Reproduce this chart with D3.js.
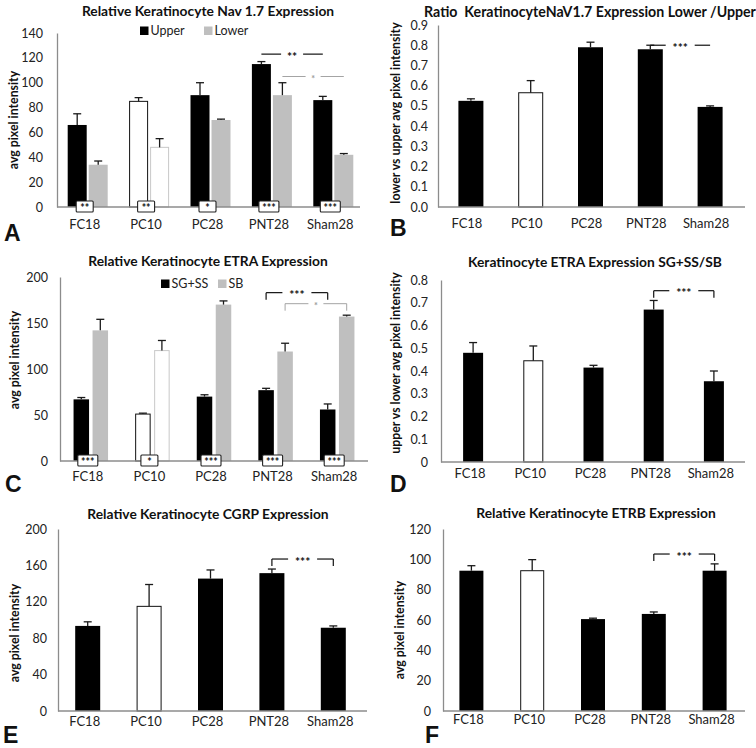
<!DOCTYPE html>
<html><head><meta charset="utf-8">
<script src="https://cdn.jsdelivr.net/npm/d3@7"></script>
<style>
body{margin:0;background:#fff;}
svg{display:block;font-family:Lato,"Open Sans",sans-serif;}
text{white-space:pre;}
</style></head>
<body>
<svg id="chart" width="756" height="748"></svg>
<script>
// ---------- DATA ----------
const categories = ["FC18","PC10","PC28","PNT28","Sham28"];
const hollowCategory = "PC10";

const navUpper    = [66, 85, 90, 115, 86];
const navUpperErr = [9, 3, 10, 2, 3];
const navLower    = [34, 48, 70, 90, 42];
const navLowerErr = [3, 7, 0.7, 10, 1];
const navStars    = ["**","**","*","***","***"];
const navTicks    = [0,20,40,60,80,100,120,140];

const navRatio    = [0.525, 0.565, 0.79, 0.78, 0.495];
const navRatioErr = [0.01, 0.06, 0.025, 0.02, 0.005];
const ratioTicks  = [0,0.1,0.2,0.3,0.4,0.5,0.6,0.7,0.8,0.9];

const etraSG      = [67, 51, 70, 77, 56];
const etraSGErr   = [2, 1, 2, 2, 6];
const etraSB      = [142, 120, 170, 119, 157];
const etraSBErr   = [12, 11, 4, 9, 1.5];
const etraStars   = ["***","*","***","***","***"];
const etraTicks   = [0,50,100,150,200];

const etraRatio    = [0.48, 0.445, 0.415, 0.67, 0.355];
const etraRatioErr = [0.045, 0.065, 0.01, 0.04, 0.045];
const etraRatioTicks = [0,0.1,0.2,0.3,0.4,0.5,0.6,0.7,0.8];

const cgrp      = [93.5, 115, 145.5, 151.5, 91.5];
const cgrpErr   = [4.5, 24, 9.5, 4.5, 2];
const cgrpTicks = [0,40,80,120,160,200];

const etrb      = [92.5, 92.5, 60.6, 64, 92.5];
const etrbErr   = [3.3, 7.3, 0.6, 1.3, 4.5];
const etrbTicks = [0,20,40,60,80,100,120];

// significance comparisons (value = height in data units)
const navSig   = [{from:"PNT28", to:"Sham28", s:0, label:"**",  value:123, kind:"line", grey:false},
                  {from:"PNT28", to:"Sham28", s:1, label:"*",   value:105, kind:"line", grey:true}];
const ratioSig = [{from:"PNT28", to:"Sham28", s:0, label:"***", value:0.80, kind:"line", grey:false}];
const etraSig  = [{from:"PNT28", to:"Sham28", s:0, label:"***", value:183, kind:"bracket", grey:false},
                  {from:"PNT28", to:"Sham28", s:1, label:"*",   value:171, kind:"bracket", grey:true}];
const etraRatioSig = [{from:"PNT28", to:"Sham28", s:0, label:"***", value:0.753, kind:"bracket", grey:false}];
const cgrpSig  = [{from:"PNT28", to:"Sham28", s:0, label:"***", value:167, kind:"bracket", grey:false}];
const etrbSig  = [{from:"PNT28", to:"Sham28", s:0, label:"***", value:103.5, kind:"bracket", grey:false}];

// ---------- DRAW ----------
const svg = d3.select("#chart");
const BLACK = "#000", GREY = "#bfbfbf", AXIS = "#8c8c8c";

function panel(c) {
  const g = svg.append("g");
  const y = d3.scaleLinear().domain([0, c.max]).range([c.yBottom, c.yTop]);
  const x = d3.scaleBand().domain(categories).range(c.band);
  const ctr = d => x(d) + x.bandwidth()/2;
  const n = c.series.length;
  const barX = (cat, i) => n === 1 ? ctr(cat) - c.bw/2
        : (i === 0 ? ctr(cat) - c.gap/2 - c.bw : ctr(cat) + c.gap/2);

  // y axis
  const ya = g.append("g").attr("transform", `translate(${c.axisLeft},0)`)
    .call(d3.axisLeft(y).tickValues(c.ticks).tickSize(0).tickSizeOuter(0)
          .tickPadding(c.tickPad).tickFormat(c.fmt));
  ya.select(".domain").attr("stroke", AXIS).attr("stroke-width", 1.3);
  ya.selectAll("text").attr("font-size", 12.5).attr("fill", "#222").attr("font-family", "Lato");

  // bars
  c.series.forEach((s, i) => {
    const col = i === 0 ? BLACK : GREY;
    g.selectAll(null).data(categories).enter().append("rect")
      .attr("x", d => barX(d, i) + (d === hollowCategory ? 0.5 : 0))
      .attr("width", d => c.bw - (d === hollowCategory ? 1 : 0))
      .attr("y", (d, k) => y(s.values[k]))
      .attr("height", (d, k) => y(0) - y(s.values[k]))
      .attr("fill", d => d === hollowCategory ? "#fff" : col)
      .attr("stroke", d => d === hollowCategory ? (i === 0 ? "#111" : "#c8c8c8") : "none")
      .attr("stroke-width", 1);
    categories.forEach((d, k) => {
      const cx = barX(d, i) + c.bw/2;
      const top = y(s.values[k] + s.errs[k]);
      const ec = "#1a1a1a";
      g.append("line").attr("x1", cx).attr("x2", cx).attr("y1", y(s.values[k])).attr("y2", top)
        .attr("stroke", ec).attr("stroke-width", 1.3);
      g.append("line").attr("x1", cx - 4).attr("x2", cx + 4).attr("y1", top).attr("y2", top)
        .attr("stroke", ec).attr("stroke-width", 1.3);
    });
  });

  // x axis line
  g.append("line").attr("x1", c.axisLeft).attr("x2", c.axisEnd)
    .attr("y1", y(0)).attr("y2", y(0)).attr("stroke", AXIS).attr("stroke-width", 1.3);

  // boxes with stars
  if (c.boxes) {
    categories.forEach((d, k) => {
      const lab = c.boxes[k];
      const w = lab.length >= 3 ? 20 : 17;
      const cx = ctr(d) + c.boxDx;
      g.append("rect").attr("x", cx - w/2).attr("y", y(0) - 6).attr("width", w).attr("height", 11)
        .attr("fill", "#fff").attr("stroke", "#222").attr("stroke-width", 1.1).attr("rx", 1);
      g.append("text").attr("x", cx).attr("y", y(0) + 5).attr("text-anchor", "middle")
        .attr("font-size", 10.5).attr("font-weight", "bold").attr("fill", "#111").text(lab);
    });
  }

  // x labels
  g.selectAll(null).data(categories).enter().append("text")
    .attr("x", d => ctr(d) + c.labelDx).attr("y", c.labelY).attr("text-anchor", "middle")
    .attr("font-size", 13).attr("fill", "#222").text(d => d);

  // significance
  (c.sigs || []).forEach(s => {
    const x1 = barX(s.from, s.s) + c.bw/2, x2 = barX(s.to, s.s) + c.bw/2;
    const yy = y(s.value);
    const col = s.grey ? "#9a9a9a" : "#111";
    const sw = s.grey ? 0.9 : 1.2;
    const mid = (x1 + x2) / 2;
    const half = s.label.length * 3.5 + 4;
    g.append("line").attr("x1", x1).attr("x2", mid - half).attr("y1", yy).attr("y2", yy)
      .attr("stroke", col).attr("stroke-width", sw);
    g.append("line").attr("x1", mid + half).attr("x2", x2).attr("y1", yy).attr("y2", yy)
      .attr("stroke", col).attr("stroke-width", sw);
    if (s.kind === "bracket") {
      [x1, x2].forEach(xx => g.append("line").attr("x1", xx).attr("x2", xx)
        .attr("y1", yy).attr("y2", yy + 7).attr("stroke", col).attr("stroke-width", sw));
    }
    g.append("text").attr("x", mid).attr("y", yy + (s.grey ? 5 : 6.5)).attr("text-anchor", "middle")
      .attr("font-size", s.grey ? 9 : 12).attr("font-weight", "bold").attr("fill", col).text(s.label);
  });

  // legend
  (c.legend || []).forEach(l => {
    g.append("rect").attr("x", l.x).attr("y", l.y - 8.5).attr("width", 8.5).attr("height", 8.5)
      .attr("fill", l.color);
    g.append("text").attr("x", l.x + 10.5).attr("y", l.y).attr("font-size", 12.5)
      .attr("fill", "#222").text(l.text);
  });

  // title
  g.append("text").attr("x", c.titleX).attr("y", c.titleY).attr("text-anchor", "middle")
    .attr("font-size", c.titleSize || 13.8).attr("font-weight", "bold").attr("fill", "#111").text(c.title);
  // y label
  g.append("text").attr("transform", `translate(${c.ylabX},${c.ylabY}) rotate(-90)`)
    .attr("text-anchor", "middle").attr("font-size", 12.3).attr("font-weight", "bold")
    .attr("fill", "#111").text(c.ylab);
  // letter
  g.append("text").attr("x", c.letX).attr("y", c.letY).attr("font-size", 23)
    .attr("font-weight", "bold").attr("font-family", "Liberation Sans, Arial, sans-serif")
    .attr("fill", "#111").text(c.letter);
}

const intFmt = d3.format("d");
panel({ max:140, ticks:navTicks, fmt:intFmt, yBottom:207, yTop:33, axisLeft:57, axisEnd:360,
  band:[57,364], bw:19, gap:2, tickPad:14,
  series:[{values:navUpper, errs:navUpperErr},{values:navLower, errs:navLowerErr}],
  boxes:navStars, boxDx:-3, labelDx:-3, labelY:229, sigs:navSig,
  legend:[{x:140,y:35,color:BLACK,text:"Upper"},{x:204,y:35,color:GREY,text:"Lower"}],
  title:"Relative Keratinocyte Nav 1.7 Expression", titleX:208, titleY:16,
  ylab:"avg pixel intensity", ylabX:18, ylabY:120, letter:"A", letX:4, letY:241 });

panel({ max:0.9, ticks:ratioTicks, fmt:d3.format(".1f"), yBottom:207, yTop:25, axisLeft:438, axisEnd:745,
  band:[441,740], bw:25, gap:0, tickPad:10,
  series:[{values:navRatio, errs:navRatioErr}],
  labelDx:-4, labelY:228, sigs:ratioSig, titleSize:14.2,
  title:"Ratio  KeratinocyteNaV1.7 Expression Lower /Upper", titleX:590, titleY:17,
  ylab:"lower vs upper avg pixel intensity", ylabX:400, ylabY:113, letter:"B", letX:390, letY:236 });

panel({ max:200, ticks:etraTicks, fmt:intFmt, yBottom:461, yTop:277, axisLeft:60, axisEnd:368,
  band:[60,368], bw:15.5, gap:3.5, tickPad:12,
  series:[{values:etraSG, errs:etraSGErr},{values:etraSB, errs:etraSBErr}],
  boxes:etraStars, boxDx:-3, labelDx:-3, labelY:481, sigs:etraSig,
  legend:[{x:161,y:288,color:BLACK,text:"SG+SS"},{x:218,y:288,color:GREY,text:"SB"}],
  title:"Relative Keratinocyte ETRA Expression", titleX:208, titleY:266,
  ylab:"avg pixel intensity", ylabX:19, ylabY:360, letter:"C", letX:5, letY:492 });

panel({ max:0.8, ticks:etraRatioTicks, fmt:d => d === 0 ? "0" : d3.format(".1f")(d),
  yBottom:462, yTop:280, axisLeft:441, axisEnd:745,
  band:[443,744], bw:20, gap:0, tickPad:13,
  series:[{values:etraRatio, errs:etraRatioErr}],
  labelDx:-3, labelY:478, sigs:etraRatioSig,
  title:"Keratinocyte ETRA Expression SG+SS/SB", titleX:595, titleY:267,
  ylab:"upper vs lower avg pixel intensity", ylabX:400, ylabY:363, letter:"D", letX:390, letY:492 });

panel({ max:200, ticks:cgrpTicks, fmt:intFmt, yBottom:711, yTop:529, axisLeft:58, axisEnd:367,
  band:[57,364], bw:25, gap:0, tickPad:11,
  series:[{values:cgrp, errs:cgrpErr}],
  labelDx:-3, labelY:726, sigs:cgrpSig,
  title:"Relative Keratinocyte CGRP Expression", titleX:208, titleY:519,
  ylab:"avg pixel intensity", ylabX:19, ylabY:633, letter:"E", letX:3, letY:743 });

panel({ max:120, ticks:etrbTicks, fmt:intFmt, yBottom:711, yTop:529, axisLeft:443, axisEnd:745,
  band:[441,745], bw:24, gap:0, tickPad:12,
  series:[{values:etrb, errs:etrbErr}],
  labelDx:-3, labelY:724, sigs:etrbSig,
  title:"Relative Keratinocyte ETRB Expression", titleX:596, titleY:518,
  ylab:"avg pixel intensity", ylabX:404, ylabY:630, letter:"F", letX:425, letY:743 });
</script>
</body></html>
